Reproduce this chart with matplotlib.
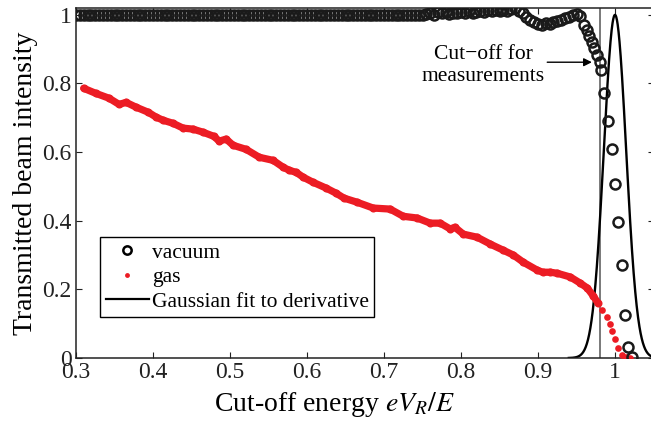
import numpy as np
import matplotlib
matplotlib.use('Agg')
import matplotlib.pyplot as plt
from matplotlib.lines import Line2D
from matplotlib.ticker import FuncFormatter

plt.rcParams['font.family'] = ['Liberation Serif', 'DejaVu Serif']
plt.rcParams['mathtext.fontset'] = 'stix'
FS = 15.5      # legend / annotation
FS_TICK = 17
FS_LAB = 20

gas_x = [0.310, 0.326, 0.343, 0.356, 0.365, 0.378, 0.394, 0.404, 0.413, 0.426,
         0.439, 0.452, 0.465, 0.479, 0.486, 0.495, 0.504, 0.521, 0.538, 0.556,
         0.569, 0.577, 0.586, 0.595, 0.608, 0.625, 0.638, 0.648, 0.665, 0.686,
         0.708, 0.725, 0.743, 0.760, 0.773, 0.786, 0.792, 0.803, 0.821, 0.838,
         0.855, 0.868, 0.881, 0.899, 0.906, 0.916, 0.925, 0.942, 0.955, 0.964,
         0.972, 0.978]
gas_y = [0.786, 0.771, 0.757, 0.739, 0.745, 0.731, 0.716, 0.702, 0.693, 0.684,
         0.670, 0.667, 0.658, 0.646, 0.632, 0.638, 0.620, 0.608, 0.585, 0.576,
         0.556, 0.547, 0.541, 0.527, 0.512, 0.495, 0.480, 0.466, 0.454, 0.437,
         0.434, 0.413, 0.408, 0.393, 0.393, 0.376, 0.381, 0.361, 0.352, 0.332,
         0.314, 0.300, 0.279, 0.256, 0.250, 0.250, 0.247, 0.236, 0.218, 0.204,
         0.180, 0.160]
# gas: sparse tail
gas_tail_x = [0.983, 0.989, 0.993, 0.996, 1.000, 1.004, 1.009, 1.014, 1.020]
gas_tail_y = [0.140, 0.120, 0.100, 0.080, 0.055, 0.030, 0.009, 0.002, 0.000]

# vacuum: flat region sits at 1 all the way to 0.75
vac_flat_x = np.arange(0.300, 0.7501, 0.005)
vac_flat_y = [1.0] * len(vac_flat_x)
vac_x = [0.755, 0.760, 0.765, 0.770, 0.775, 0.780, 0.785, 0.790, 0.795, 0.800,
         0.805, 0.810, 0.815, 0.820, 0.825, 0.830, 0.835, 0.840, 0.845, 0.850,
         0.855, 0.860, 0.865, 0.870, 0.875, 0.880, 0.885, 0.890, 0.895, 0.900,
         0.905, 0.910, 0.915, 0.920, 0.925, 0.930, 0.935, 0.940, 0.945, 0.950,
         0.955, 0.960, 0.963, 0.966, 0.970, 0.973, 0.976, 0.980, 0.982, 0.986,
         0.991, 0.996, 1.000, 1.004, 1.009, 1.013, 1.017, 1.022]
vac_y = [1.002, 1.005, 1.000, 1.008, 1.004, 1.007, 1.002, 1.006, 1.004, 1.008,
         1.005, 1.010, 1.006, 1.009, 1.012, 1.008, 1.013, 1.010, 1.014, 1.011,
         1.015, 1.012, 1.017, 1.019, 1.012, 1.005, 0.995, 0.985, 0.978, 0.972,
         0.970, 0.975, 0.972, 0.978, 0.982, 0.986, 0.990, 0.994, 1.000, 1.003,
         0.998, 0.970, 0.955, 0.938, 0.920, 0.903, 0.882, 0.862, 0.838, 0.771,
         0.690, 0.608, 0.507, 0.396, 0.271, 0.125, 0.032, 0.003]

# gaussian fit to derivative of vacuum curve
fit_center = 1.0
fit_sigma = 0.0145
fit_amp = 1.0
cutoff = 0.98

xticks = [0.3, 0.4, 0.5, 0.6, 0.7, 0.8, 0.9, 1.0]
yticks = [0, 0.2, 0.4, 0.6, 0.8, 1.0]

red = '#ec1c24'

fig = plt.figure(figsize=(6.51, 4.24), dpi=100)
ax = fig.add_axes([76/651, 66/424, 577.5/651, 350/424])

ax.axvline(cutoff, color='#555555', lw=1.1, zorder=1)

xf = np.linspace(0.94, 1.06, 400)
ax.plot(xf, fit_amp*np.exp(-(xf-fit_center)**2/(2*fit_sigma**2)), color='k', lw=1.7, zorder=2)

ax.plot(gas_x, gas_y, color=red, lw=5.2, solid_capstyle='round', zorder=3)
ax.plot(gas_x, gas_y, 'o', color=red, ms=5.8, mew=0, zorder=3)
ax.plot(gas_tail_x, gas_tail_y, 'o', color=red, ms=4.8, mew=0, zorder=3)

ax.plot(vac_flat_x, vac_flat_y, 'o', mfc='none', mec='#1a1a1a', ms=7.2, mew=1.8, zorder=4)
ax.plot(vac_x, vac_y, 'o', mfc='none', mec='#1a1a1a', ms=7.2, mew=1.8, zorder=4)

ax.set_xlim(0.3, 1.05)
ax.set_ylim(0, 1.02)
ax.set_xticks(xticks)
ax.set_yticks(yticks)
fmt = FuncFormatter(lambda v, p: '%g' % v)
ax.xaxis.set_major_formatter(fmt)
ax.yaxis.set_major_formatter(fmt)
ax.tick_params(direction='in', length=4, width=0.8, top=True, right=True,
               labelsize=FS_TICK, pad=3, colors='#222222')
for s in ax.spines.values():
    s.set_linewidth(1.1)
    s.set_color('#222222')

ax.set_xlabel('Cut-off energy $eV_R/E$', fontsize=FS_LAB, labelpad=5, x=0.447)
ax.set_ylabel('Transmitted beam intensity', fontsize=FS_LAB, labelpad=3)

ax.text(0.8286, 0.853, 'Cut\u2212off for\nmeasurements', fontsize=FS,
        ha='center', va='center', linespacing=1.2)
ax.annotate('', xy=(0.970, 0.862), xytext=(0.912, 0.862),
            arrowprops=dict(arrowstyle='-|>', color='k', lw=1.0,
                            mutation_scale=12, shrinkA=0, shrinkB=0))

handles = [Line2D([], [], ls='none', marker='o', mfc='none', mec='k', ms=6, mew=1.8),
           Line2D([], [], ls='none', marker='o', color=red, ms=3.5, mew=0),
           Line2D([], [], color='k', lw=1.6)]
leg = ax.legend(handles, ['vacuum', 'gas', 'Gaussian fit to derivative'],
                loc='lower left', bbox_to_anchor=(0.042, 0.117), borderaxespad=0,
                fontsize=FS, fancybox=False, framealpha=1, edgecolor='k',
                handlelength=2.0, handletextpad=0.15, labelspacing=0.2,
                borderpad=0.25)
leg.get_frame().set_linewidth(1.0)

fig.savefig('out.png', dpi=100)
